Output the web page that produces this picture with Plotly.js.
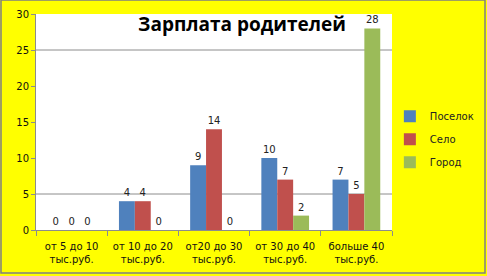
<!DOCTYPE html>
<html>
<head>
<meta charset="utf-8">
<script src="https://cdn.plot.ly/plotly-3.0.1.min.js"></script>
<style>html,body{margin:0;padding:0;background:#FFFF00;}#chart{width:487px;height:276px;}</style>
</head>
<body>
<div id="chart"></div>
<script>
const categories = ["от 5 до 10<br>тыс.руб.", "от 10 до 20<br>тыс.руб.", "от20 до 30<br>тыс.руб.", "от 30 до 40<br>тыс.руб.", "больше 40<br>тыс.руб."];
const seriesNames = ["Поселок", "Село", "Город"];
const poselok = [0, 4, 9, 10, 7];
const selo = [0, 4, 14, 7, 5];
const gorod = [0, 0, 0, 2, 28];
const colors = ["#4F81BD", "#C0504D", "#9BBB59"];
const gridValues = [5, 25];

const allSeries = [poselok, selo, gorod];
const traces = allSeries.map((vals, i) => ({
  type: "bar",
  name: seriesNames[i],
  x: categories,
  y: vals,
  marker: {color: colors[i]},
  text: vals.map(String),
  textposition: "outside",
  cliponaxis: false,
  textfont: {family: "DejaVu Sans", size: 10, color: "#222"},
  legendgroup: "g" + i,
  hoverinfo: "none"
}));

const shapes = gridValues.map(v => ({
  type: "line", xref: "paper", yref: "y", x0: 0, x1: 1, y0: v, y1: v,
  line: {color: "#8c8c8c", width: 1}, layer: "below"
}));
// outer border
shapes.push({
  type: "rect", xref: "paper", yref: "paper",
  x0: -35 / 356, x1: 449 / 356, y0: -43 / 216, y1: 230 / 216,
  line: {color: "#808080", width: 1.5}, fillcolor: "rgba(0,0,0,0)"
});

const layout = {
  width: 487, height: 276,
  paper_bgcolor: "#FFFF00",
  plot_bgcolor: "#FFFFFF",
  margin: {l: 36, r: 95, t: 14, b: 46, autoexpand: false},
  barmode: "group",
  bargap: 0.33,
  bargroupgap: 0,
  showlegend: true,
  title: {
    text: "<b>Зарплата родителей</b>",
    font: {family: "Open Sans", size: 19, color: "#000"},
    x: 0.497, xanchor: "center",
    y: 1 - 24 / 276, yanchor: "middle"
  },
  xaxis: {
    type: "category",
    showline: true, linecolor: "#8c8c8c", linewidth: 1,
    ticks: "outside", tickson: "boundaries", ticklen: 5, tickcolor: "#8c8c8c",
    tickangle: 0, ticklabelstandoff: 7,
    tickfont: {family: "DejaVu Sans", size: 10, color: "#111"},
    showgrid: false, zeroline: false, fixedrange: true, automargin: false
  },
  yaxis: {
    range: [0, 30], dtick: 5, tick0: 0,
    showline: true, linecolor: "#8c8c8c", linewidth: 1,
    ticks: "outside", ticklen: 4, tickcolor: "#8c8c8c",
    tickfont: {family: "DejaVu Sans", size: 10, color: "#111"},
    showgrid: false, zeroline: false, fixedrange: true, automargin: false
  },
  legend: {
    x: 0.994, xanchor: "left", y: 0.42, yanchor: "middle",
    font: {family: "DejaVu Sans", size: 10, color: "#222"},
    bgcolor: "rgba(0,0,0,0)",
    traceorder: "grouped", tracegroupgap: 4,
    itemwidth: 30
  },
  shapes: shapes
};

Plotly.newPlot("chart", traces, layout, {displayModeBar: false, staticPlot: true});
</script>
</body>
</html>
